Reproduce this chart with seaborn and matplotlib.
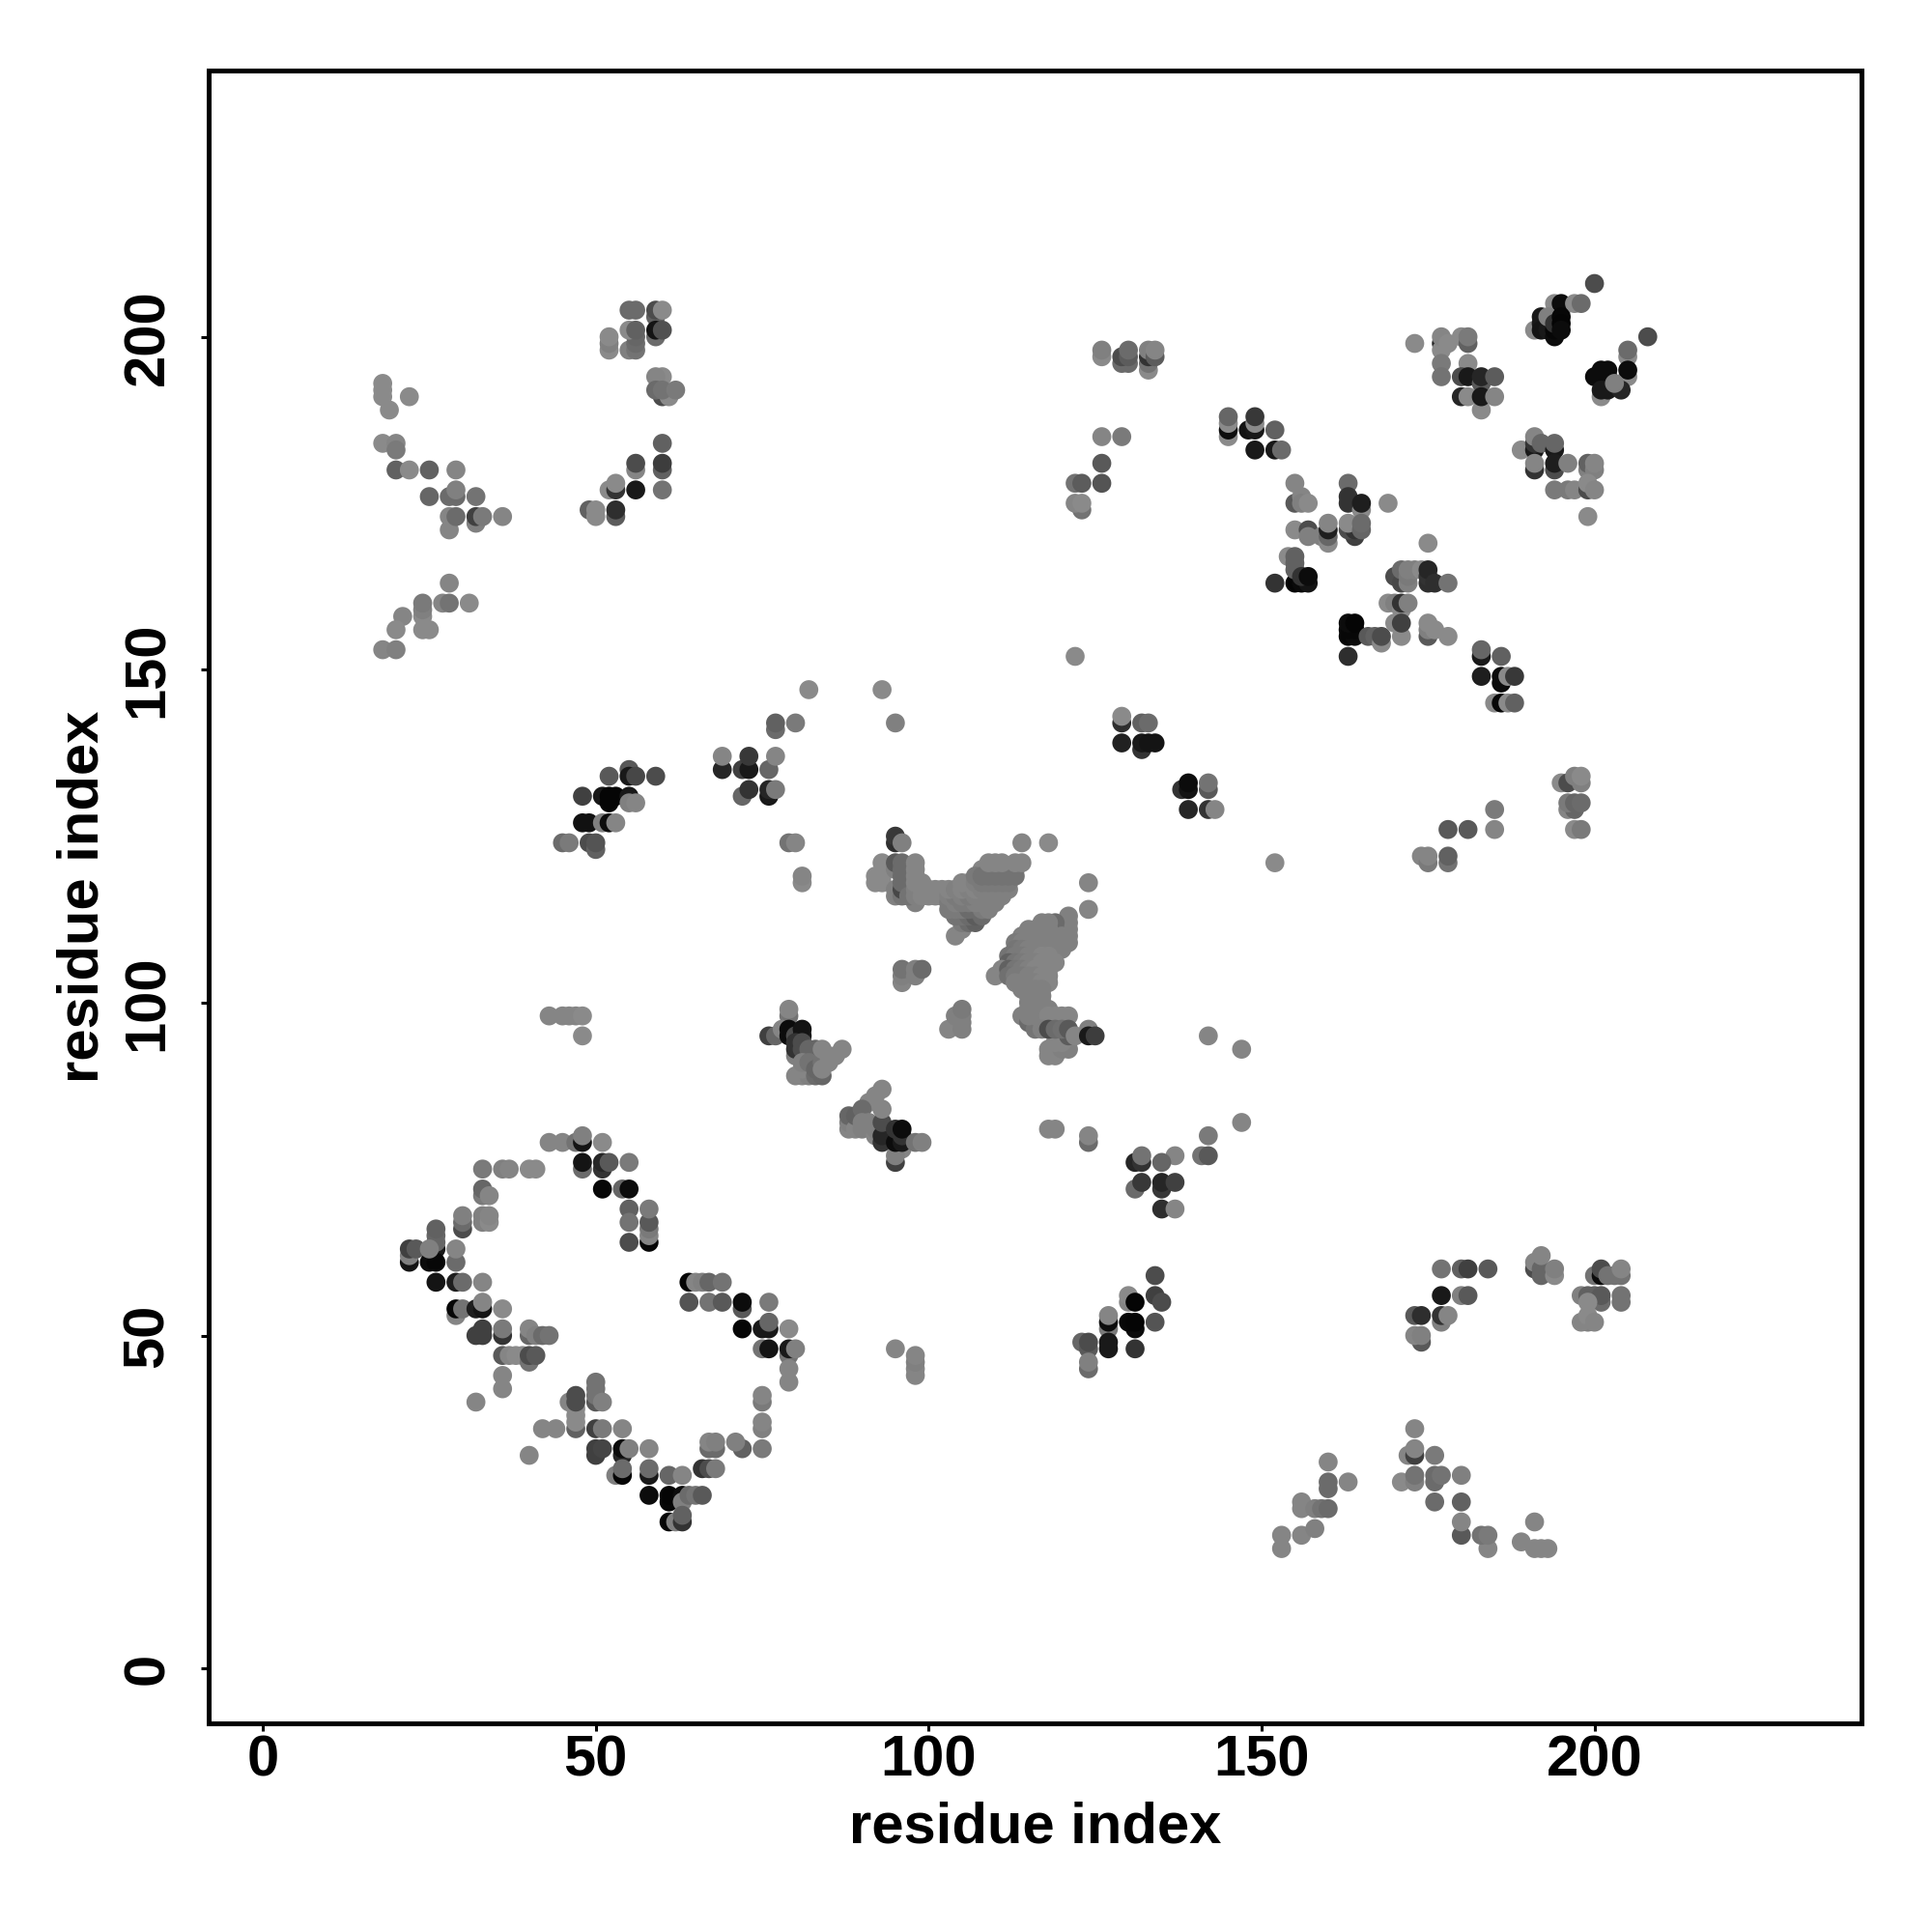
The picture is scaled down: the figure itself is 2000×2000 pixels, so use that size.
#!/usr/bin/python
# residue contact map, each contact is (residue i, residue j, grey level)
import matplotlib
matplotlib.use("Agg")
import matplotlib.pyplot as plt
import pandas as pd
import seaborn as sns

tick_values = [0, 50, 100, 150, 200]
axis_label = "residue index"

upper_left = [(18,193,.54),(18,192,.54),(18,191,.54),(22,191,.54),(19,189,.54),(18,184,.54),(20,184,.52),(20,183,.48),
    (20,180,.38),(22,180,.54),(25,180,.38),(29,180,.52),(25,176,.4),(28,176,.42),(29,176,.42),(29,177,.5),(32,176,.45),
    (28,171,.52),(28,173,.52),(29,173,.42),(32,172,.5),(32,173,.25),(33,173,.48),(36,173,.52)]
upper_left_low = [(28,163,.52),(27,160,.52),(28,160,.45),(31,160,.54),(24,156,.54),(25,156,.54),(24,158,.54),(24,159,.5),
    (24,160,.48),(21,158,.52),(20,156,.54),(18,153,.52),(20,153,.5)]
top_50 = [(55,204,.42),(56,204,.42),(59,203,.38),(59,204,.3),(60,204,.54),(52,198,.54),(52,199,.5),(52,200,.54),
    (55,198,.5),(56,198,.45),(56,199,.42),(56,200,.4),(55,201,.54),(56,201,.38),(59,200,.42),(59,201,.08),(60,201,.32),
    (60,194,.54),(59,194,.52),(60,191,.3),(61,191,.54),(59,192,.42),(60,192,.45),(62,192,.48)]
right_50 = [(60,184,.38),(60,180,.38),(60,181,.24),(56,180,.52),(56,181,.3),(60,177,.45),(52,177,.54),(53,177,.2),
    (53,178,.54),(56,177,.1),(49,174,.38),(50,173,.54),(50,174,.54),(53,173,.36),(53,174,.18)]
mid_50 = [(52,134,.35),(55,135,.35),(55,134,.1),(56,134,.28),(59,134,.3),(48,131,.25),(51,131,.1),(52,130,.02),(52,131,.02),
    (53,131,.02),(55,131,.1),(55,130,.5),(56,130,.52),(48,127,.07),(49,127,.07),(51,127,.5),(52,127,.05),(53,127,.52),
    (45,124,.42),(46,124,.48),(49,124,.3),(50,123,.38),(50,124,.33)]
top_130 = [(126,197,.54),(126,198,.5),(129,196,.42),(130,196,.42),(129,197,.3),(130,197,.36),(130,198,.42),
    (133,195,.54),(133,196,.45),(133,197,.2),(133,198,.5),(134,197,.36),(134,198,.52),(126,185,.52),(129,185,.48),
    (126,181,.35),(122,178,.45),(123,178,.36),(126,178,.33),(123,174,.45),(122,175,.52),(123,175,.54)]
top_150 = [(145,185,.54),(145,186,.05),(145,187,.54),(145,188,.4),(148,186,.08),(149,186,.1),(149,187,.54),(149,188,.22),
    (152,186,.38),(149,183,.1),(152,183,.1),(153,183,.42)]
mid_160 = [(155,178,.52),(155,175,.35),(156,176,.52),(156,175,.5),(157,175,.54),(163,178,.42),(163,176,.2),(163,175,.2),
    (165,174,.54),(165,175,.12),(169,175,.54),(155,171,.54),(157,171,.3),(157,170,.5),(159,170,.5),(160,169,.54),
    (160,170,.4),(160,171,.12),(160,172,.52),(164,170,.25),(163,171,.3),(164,171,.2),(163,172,.54),(165,171,.4),(165,172,.42)]
mid_155 = [(154,167,.54),(155,163,.02),(156,163,.04),(157,163,.08),(155,165,.38),(155,166,.38),(155,167,.38),(156,164,.2),
    (157,164,.05),(152,163,.2),(163,152,.18),(163,155,.03),(164,155,.05),(163,156,.03),(164,156,.03),(163,157,.05),
    (164,157,.02),(166,155,.35),(167,155,.38),(168,154,.54),(168,155,.3)]
top_right = [(200,208,.3),(194,205,.54),(195,204,.54),(195,205,.05),(197,205,.54),(198,205,.42),(191,201,.54),(192,203,.1),
    (192,202,.1),(192,201,.08),(193,201,.1),(193,203,.5),(194,200,.05),(194,201,.03),(194,202,.2),(195,203,.03),
    (195,202,.02),(195,201,.05),(208,200,.3),(205,197,.54),(205,198,.42),(205,194,.54),(205,195,.05),(201,191,.54),
    (200,194,.05),(201,195,.05),(202,195,.05),(201,194,.05),(202,194,.05),(201,192,.1),(202,192,.1),(204,192,.15),(203,193,.5)]
top_180 = [(173,199,.54),(177,199,.15),(177,198,.54),(177,200,.52),(178,199,.54),(180,200,.54),(181,199,.38),(181,200,.48),
    (177,196,.48),(177,194,.45),(181,196,.54),(180,194,.3),(181,194,.1),(183,193,.35),(183,194,.15),(185,194,.36),
    (183,189,.54),(180,191,.15),(181,191,.54),(183,191,.1),(185,191,.52)]
right_190 = [(189,183,.54),(191,183,.1),(191,184,.2),(191,185,.52),(192,184,.4),(194,183,.1),(194,184,.4),(191,180,.2),
    (191,181,.52),(194,180,.3),(194,181,.12),(196,181,.5),(199,180,.5),(199,181,.38),(200,180,.5),(200,181,.52),
    (194,177,.48),(196,177,.48),(197,177,.52),(199,177,.3),(199,178,.54),(200,177,.52),(199,173,.54)]
mid_170 = [(175,169,.54),(170,164,.3),(171,163,.28),(171,165,.42),(172,163,.5),(172,164,.48),(172,165,.5),(173,165,.5),
    (174,165,.54),(175,163,.18),(175,164,.2),(175,165,.15),(176,163,.18),(178,163,.45),(169,160,.54),(170,160,.5),
    (171,159,.54),(171,160,.2),(172,160,.5),(170,157,.54),(171,155,.54),(171,157,.25),(175,155,.35),(175,156,.5),
    (175,157,.54),(176,156,.54),(178,155,.54)]
right_185 = [(183,152,.1),(183,153,.4),(186,152,.38),(183,149,.12),(186,148,.05),(186,149,.05),(187,149,.54),(188,149,.22),
    (185,145,.54),(186,145,.03),(187,145,.54),(188,145,.38)]
center_right = [(122,152,.54),(129,142,.18),(129,143,.54),(132,142,.38),(133,142,.42),(129,139,.13),(132,138,.2),(132,139,.1),
    (133,139,.08),(134,139,.08),(138,132,.2),(139,132,.08),(139,133,.05),(142,132,.35),(142,133,.45),(139,129,.15),
    (142,129,.2),(143,129,.52),(152,121,.54),(174,122,.52),(175,121,.48),(175,122,.52),(178,121,.45),(178,122,.38),
    (178,126,.35),(181,126,.35),(185,129,.48),(185,126,.52),(195,133,.54),(196,133,.3),(197,134,.5),(198,133,.5),
    (198,134,.54),(196,129,.52),(197,129,.4),(196,130,.48),(197,130,.4),(198,130,.42),(197,126,.54),(198,126,.48)]
center_left = [(82,147,.54),(93,147,.54),(95,142,.5),(77,141,.42),(77,142,.38),(80,142,.48),(69,135,.15),(69,137,.52),
    (72,135,.25),(73,135,.1),(73,137,.22),(76,135,.4),(77,137,.52),(72,131,.4),(73,132,.2),(76,131,.1),(76,132,.15),
    (77,132,.48),(79,124,.45),(80,124,.52),(81,118,.54),(81,119,.52),(43,98,.52),(45,98,.52),(46,98,.52),(47,98,.52),
    (48,98,.54),(48,95,.54),(95,48,.52),(98,44,.52),(98,45,.52),(98,46,.5),(98,47,.52),(142,95,.52),(147,93,.52)]
center_125 = [(95,124,.18),(95,125,.22),(96,124,.5),(92,118,.54),(92,119,.54),(93,118,.54),(93,119,.54),(93,121,.54),
    (95,116,.5),(95,117,.5),(95,120,.5),(95,121,.35),(96,116,.45),(96,117,.28),(96,118,.42),(96,119,.42),(96,120,.42),
    (96,121,.42),(98,115,.5),(97,116,.45),(98,116,.5),(98,117,.5),(98,118,.52),(98,119,.52),(98,120,.52),(98,121,.52),
    (99,116,.52),(99,117,.52),(99,118,.52),(100,116,.52),(100,117,.52),(101,116,.52),(101,117,.52),(102,116,.52),(102,117,.52)]
band_upper = [(104,110,.52),(105,111,.52),(105,112,.48),(106,112,.42),(107,112,.38),(104,113,.45),(105,113,.45),(106,113,.42),
    (107,113,.36),(108,113,.42),(103,114,.48),(104,114,.48),(105,114,.48),(106,114,.42),(107,114,.42),(108,114,.48),
    (109,114,.5),(103,115,.48),(104,115,.5),(105,115,.48),(106,115,.48),(107,115,.5),(108,115,.5),(109,115,.5),(110,115,.5),
    (103,116,.5),(104,116,.48),(105,116,.5),(106,116,.48),(107,116,.5),(108,116,.5),(109,116,.5),(110,116,.5),(111,116,.5),
    (103,117,.52),(104,117,.5),(105,117,.52),(106,117,.5),(107,117,.52),(108,117,.5),(109,117,.5),(110,117,.5),(111,117,.5),
    (112,117,.5),(105,118,.52),(106,118,.52),(107,118,.5),(108,118,.48),(109,118,.48),(110,118,.48),(111,118,.48),(112,118,.48),
    (108,120,.52),(109,120,.52),(110,120,.52),(111,120,.52),(112,120,.52),(113,120,.52),(107,119,.48),(108,119,.45),(109,119,.45),
    (110,119,.45),(111,119,.45),(112,119,.45),(113,119,.45),(109,121,.52),(110,121,.52),(111,121,.52),(113,121,.52),(114,121,.52),
    (114,124,.52),(118,124,.54),(96,103,.52),(96,104,.5),(96,105,.45),(98,104,.5),(98,105,.5),(99,105,.42),(103,96,.52),
    (105,96,.5),(104,98,.5),(105,97,.5),(105,98,.5),(105,99,.48)]
band_lower = [(124,118,.52),(124,114,.52),(121,109,.5),(121,110,.5),(121,111,.5),(121,112,.5),(121,113,.5),(119,108,.42),(119,109,.42),
    (119,110,.42),(119,111,.42),(119,112,.42),(117,112,.5),(118,112,.5),(115,111,.5),(116,111,.5),(117,111,.5),(118,111,.5),
    (114,110,.5),(115,110,.5),(116,110,.5),(117,110,.5),(118,110,.5),(120,110,.5),(113,109,.48),(114,109,.5),(115,109,.5),
    (116,109,.5),(117,109,.5),(118,109,.5),(120,109,.5),(113,108,.46),(114,108,.48),(115,108,.5),(116,108,.5),(117,108,.5),
    (118,108,.5),(120,108,.5),(112,107,.45),(113,107,.48),(114,107,.48),(115,107,.5),(116,107,.5),(117,107,.52),(118,107,.52),
    (112,106,.38),(113,106,.46),(114,106,.48),(115,106,.5),(116,106,.5),(117,106,.52),(118,106,.52),(119,106,.52),(110,104,.52),
    (111,105,.52),(112,105,.38),(113,105,.46),(114,105,.48),(115,105,.5),(116,105,.52),(117,105,.52),(118,105,.52),(112,104,.44),
    (113,104,.48),(114,104,.48),(115,104,.5),(116,104,.5),(117,104,.52),(118,104,.52),(113,103,.5),(114,103,.5),(115,103,.5),
    (116,103,.5),(117,103,.52),(118,103,.52),(114,102,.5),(115,102,.5),(116,102,.5),(117,102,.5),(115,101,.5),(116,101,.5),
    (117,101,.5),(115,100,.5),(116,100,.5),(117,100,.5),(115,99,.5),(116,99,.5),(117,99,.5),(118,99,.5)]
band_tail = [(114,98,.5),(115,97,.42),(116,97,.42),(116,96,.46),(115,98,.5),(116,98,.5),(117,98,.5),(118,98,.52),(119,98,.52),
    (120,98,.52),(121,98,.52),(118,92,.52),(119,92,.52),(118,93,.52),(119,93,.52),(120,93,.5),(121,93,.5),(119,94,.52),(120,94,.52),
    (117,96,.5),(118,96,.3),(119,96,.42),(121,95,.36),(120,96,.44),(121,96,.35),(122,95,.52),(124,96,.5),(124,95,.1),(125,95,.24)]
mid_80 = [(79,98,.45),(79,99,.52),(76,95,.25),(77,95,.4),(78,96,.52),(80,92,.5),(79,95,.05),(79,96,.05),(80,95,.3),(81,95,.1),
    (81,96,.08),(80,93,.2),(80,94,.2),(81,93,.3),(81,94,.3),(82,93,.4),(83,93,.4),(80,89,.52),(81,89,.52),(82,89,.5),
    (81,90,.52),(81,91,.5),(82,91,.45),(83,89,.42),(83,90,.4),(84,89,.4),(84,91,.45),(84,90,.52),(85,91,.52),(84,93,.52),
    (85,92,.52),(86,92,.52),(87,93,.52)]
mid_90 = [(93,87,.52),(92,86,.52),(91,85,.52),(88,81,.52),(88,82,.5),(88,83,.4),(89,81,.52),(89,83,.38),(90,81,.5),(90,84,.42),
    (90,82,.5),(91,82,.5),(92,80,.52),(92,81,.5),(93,79,.2),(93,80,.15),(93,82,.3),(93,84,.52),(96,78,.52),(95,76,.25),
    (95,77,.5),(95,79,.05),(95,81,.2),(96,79,.1),(96,80,.2),(96,81,.05),(98,79,.45),(99,79,.5),(118,81,.52),(119,81,.52),
    (124,79,.42),(124,80,.52)]
mid_135 = [(147,82,.52),(142,80,.48),(141,77,.45),(142,77,.35),(137,77,.52),(131,76,.15),(132,76,.2),(132,77,.45),(135,76,.4),
    (131,72,.42),(132,73,.22),(135,72,.22),(135,73,.15),(137,73,.25),(135,69,.18),(137,69,.52)]
low_130 = [(134,59,.3),(134,56,.25),(135,55,.3),(130,55,.52),(130,56,.54),(131,55,.02),(131,51,.05),(130,52,.03),(131,52,.02),
    (134,52,.33),(127,51,.48),(127,52,.05),(127,53,.52),(127,48,.1),(127,49,.1),(131,48,.2),(123,49,.4),(124,48,.35),
    (124,49,.3),(124,45,.42),(124,46,.5)]
low_180 = [(177,60,.45),(180,60,.38),(181,60,.25),(184,60,.35),(177,56,.1),(180,56,.5),(181,56,.35),(173,53,.35),(174,53,.18),
    (177,52,.5),(177,53,.2),(178,53,.52),(174,49,.35),(173,50,.52),(174,50,.5)]
low_195 = [(191,60,.3),(191,61,.52),(192,59,.4),(192,60,.4),(192,62,.52),(194,59,.54),(194,60,.5),(200,59,.45),(201,59,.05),
    (201,60,.3),(202,59,.45),(203,59,.45),(204,59,.45),(204,60,.52),(198,56,.5),(199,56,.38),(200,56,.38),(201,55,.42),
    (201,56,.35),(204,55,.45),(204,56,.45),(199,52,.5),(198,52,.52),(199,53,.54),(199,55,.54),(200,52,.52)]
bottom_right = [(153,20,.52),(153,18,.52),(156,20,.52),(158,21,.5),(156,24,.52),(156,25,.52),(158,24,.5),(159,24,.45),(160,24,.42),
    (160,31,.52),(160,27,.42),(160,28,.42),(163,28,.52),(173,36,.52),(172,32,.52),(173,32,.25),(173,33,.52),(171,28,.54),
    (173,28,.5),(173,29,.45),(176,28,.42),(176,29,.42),(177,29,.45),(176,32,.48),(180,29,.5),(176,25,.42),(180,25,.38),
    (180,20,.35),(180,22,.52),(184,18,.52),(183,20,.45),(184,20,.48),(189,19,.52),(191,22,.52),(191,18,.52),(192,18,.52),(193,18,.52)]
ring_top = [(43,79,.52),(45,79,.52),(47,79,.45),(48,79,.08),(48,80,.5),(51,79,.54),(33,75,.48),(36,75,.5),(37,75,.52),(40,75,.54),
    (41,75,.54),(48,75,.42),(48,76,.08),(51,75,.2),(51,76,.15),(52,76,.35),(55,76,.48),(51,72,.03),(54,72,.4),(55,72,.05),
    (33,71,.48),(33,72,.4),(34,71,.52),(30,66,.3),(30,67,.42),(30,68,.5),(33,67,.5),(33,68,.5),(34,67,.54),(34,68,.52),
    (55,69,.38),(55,67,.45),(55,64,.3),(58,64,.03),(58,65,.52),(58,66,.48),(58,67,.35),(58,69,.48)]
ring_left = [(26,63,.1),(26,64,.4),(26,65,.4),(26,66,.38),(22,61,.08),(22,62,.5),(22,63,.25),(23,63,.35),(25,61,.05),(26,61,.03),
    (25,63,.5),(29,61,.42),(29,63,.52),(26,58,.08),(29,58,.12),(30,58,.42),(33,58,.52),(29,53,.52),(29,54,.03),(30,54,.45),
    (32,54,.12),(33,54,.08),(33,55,.52),(36,54,.54),(32,50,.25),(33,50,.25),(33,51,.25),(36,50,.2),(36,51,.48),(40,50,.4),
    (40,51,.52),(41,50,.5),(42,50,.42),(43,50,.45),(36,47,.35),(37,47,.52),(38,47,.54),(39,47,.54),(40,46,.45),(40,47,.3),
    (41,47,.35),(36,44,.52),(36,42,.52),(32,40,.52)]
ring_low = [(50,40,.35),(50,41,.45),(50,42,.45),(50,43,.45),(51,40,.5),(46,40,.52),(47,36,.38),(47,37,.54),(47,38,.54),(47,39,.54),
    (47,40,.3),(47,41,.3),(42,36,.52),(44,36,.52),(50,36,.25),(51,36,.48),(54,36,.52),(50,32,.25),(50,33,.25),(51,33,.27),
    (54,32,.15),(54,33,.05),(55,33,.5),(58,33,.52),(40,32,.52),(53,29,.5),(54,29,.02),(54,30,.42),(58,29,.1),(58,30,.42),
    (61,29,.4),(63,29,.52),(58,26,.05),(61,25,.03),(61,26,.02),(63,26,.05),(63,25,.5),(64,26,.42),(65,26,.45),(66,26,.35),
    (61,22,.02),(62,22,.5),(63,22,.2),(63,23,.38)]
ring_right = [(64,58,.02),(65,58,.52),(66,58,.5),(67,58,.4),(69,58,.45),(64,55,.33),(67,55,.45),(69,55,.35),(72,54,.35),(72,55,.05),
    (76,55,.48),(72,51,.02),(75,51,.1),(76,51,.1),(76,52,.4),(79,51,.54),(75,48,.45),(76,48,.08),(79,47,.45),(79,48,.1),
    (80,48,.5),(79,45,.52),(79,43,.52),(75,40,.48),(75,41,.52),(75,36,.5),(75,37,.52),(75,33,.48),(72,33,.38),(71,34,.5),
    (67,33,.42),(68,33,.42),(67,34,.52),(68,34,.5),(66,30,.2),(67,30,.3),(68,30,.48)]

clusters = [upper_left, upper_left_low, top_50, right_50, mid_50, top_130, top_150, mid_160, mid_155, top_right, top_180,
            right_190, mid_170, right_185, center_right, center_left, center_125, band_upper, band_lower, band_tail, mid_80,
            mid_90, mid_135, low_130, low_180, low_195, bottom_right, ring_top, ring_left, ring_low, ring_right]

rows = [p for c in clusters for p in c]
df = pd.DataFrame(rows, columns=["i", "j", "grey"])

sns.set_theme(style="white")
plt.rcParams['font.family'] = ['Liberation Sans', 'DejaVu Sans']
plt.rcParams['font.weight'] = 'bold'

fig = plt.figure(figsize=(10, 10), dpi=200)
ax = fig.add_axes([0.1078, 0.108, 0.8557, 0.8557])

sns.scatterplot(data=df, x="i", y="j", hue="grey", palette="gray", hue_norm=(0, 1),
                s=50, linewidth=0, alpha=1, legend=False, ax=ax)

ax.set_xlim(-8.2, 240.1)
ax.set_ylim(-8.25, 240.05)
ax.set_xticks(tick_values)
ax.set_yticks(tick_values)
ax.tick_params(axis='both', length=3, width=1.1, color='black', labelsize=21.5,
               bottom=True, left=True, labelcolor='black')
ax.tick_params(axis='x', pad=1)
ax.tick_params(axis='y', pad=9.5)
for lab in ax.get_yticklabels():
    lab.set_rotation(90)
    lab.set_va('center')
for s in ax.spines.values():
    s.set_visible(True)
    s.set_color('black')
    s.set_linewidth(1.8)
ax.set_xlabel(axis_label, fontsize=21.5, fontweight='bold', color='black', labelpad=5)
ax.set_ylabel(axis_label, fontsize=21.5, fontweight='bold', color='black', labelpad=4.5)

fig.savefig("out.png", dpi=200)
